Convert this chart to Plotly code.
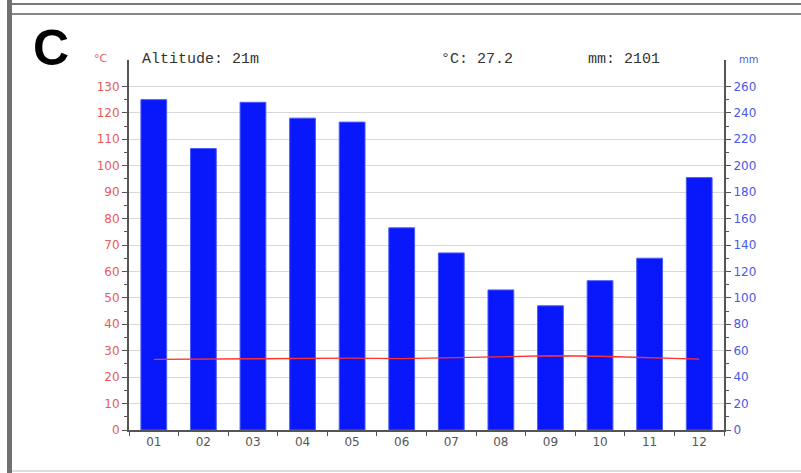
import plotly.graph_objects as go

months = ["01", "02", "03", "04", "05", "06", "07", "08", "09", "10", "11", "12"]
precip_mm = [250, 213, 248, 236, 233, 153, 134, 106, 94, 113, 130, 191]
temp_c = [26.7, 26.8, 27.0, 27.2, 27.2, 27.0, 27.4, 27.9, 28.1, 27.9, 27.4, 26.8]
temp_ticks = [0, 10, 20, 30, 40, 50, 60, 70, 80, 90, 100, 110, 120, 130]
temp_minor = [5, 15, 25, 35, 45, 55, 65, 75, 85, 95, 105, 115, 125]
mm_ticks = [0, 20, 40, 60, 80, 100, 120, 140, 160, 180, 200, 220, 240, 260]
mm_minor = [10, 30, 50, 70, 90, 110, 130, 150, 170, 190, 210, 230, 250]
altitude_txt = "Altitude: 21m"
mean_temp_txt = "°C: 27.2"
total_mm_txt = "mm: 2101"

L, R, T, B = 129, 724, 60, 430
W, H = 801, 473


def px(x):
    return (x - L) / (R - L)


def py(y):
    return (B - y) / (B - T)


fig = go.Figure()
fig.add_trace(go.Bar(x=months, y=precip_mm, yaxis="y", marker=dict(color="#0818fa", line=dict(color="#4a5cff", width=1)),
                     showlegend=False))
fig.add_trace(go.Scatter(x=months, y=temp_c, yaxis="y2", mode="lines", line=dict(color="#ff3030", width=1.3),
                         showlegend=False))

axis_col = "#555555"
fig.update_layout(
    width=W, height=H,
    margin=dict(l=L, r=W - R, t=T, b=H - B),
    paper_bgcolor="white", plot_bgcolor="white",
    bargap=0.48,
    xaxis=dict(type="category", showline=True, linecolor=axis_col, linewidth=2, ticks="outside",
               tickson="boundaries", ticklen=4, tickcolor=axis_col, showgrid=False,
               tickfont=dict(family="DejaVu Sans", size=12, color="#555555")),
    yaxis=dict(side="right", range=[0, 140 * 2], tickvals=mm_ticks, showline=True, linecolor=axis_col,
               linewidth=2, ticks="outside", ticklen=5, tickcolor=axis_col, showgrid=True, gridcolor="#d8d8d8",
               gridwidth=1, zeroline=False,
               minor=dict(tickvals=mm_minor, ticks="outside", ticklen=3, tickcolor=axis_col, showgrid=False),
               tickfont=dict(family="DejaVu Sans", size=12, color="#4a5ae8")),
    yaxis2=dict(side="left", overlaying="y", range=[0, 140], tickvals=temp_ticks, showline=True,
                linecolor=axis_col, linewidth=2, ticks="outside", ticklen=5, tickcolor=axis_col, showgrid=False,
                zeroline=False,
                minor=dict(tickvals=temp_minor, ticks="outside", ticklen=3, tickcolor=axis_col, showgrid=False),
                tickfont=dict(family="DejaVu Sans", size=12, color="#e85a5a")),
)

mono = dict(family="Liberation Mono", size=15, color="#333333")
ann = [
    dict(text="<b>C</b>", x=px(51), y=py(48), font=dict(family="Liberation Sans", size=50, color="black"),
         xanchor="center", yanchor="middle"),
    dict(text="°C", x=px(101), y=py(58), font=dict(family="DejaVu Sans", size=11, color="#e85a5a"),
         xanchor="center", yanchor="middle"),
    dict(text="mm", x=px(748), y=py(59), font=dict(family="DejaVu Sans", size=10, color="#4a5ae8"),
         xanchor="center", yanchor="middle"),
    dict(text=altitude_txt, x=px(140), y=py(59), font=mono, xanchor="left", yanchor="middle"),
    dict(text=mean_temp_txt, x=px(439), y=py(59), font=mono, xanchor="left", yanchor="middle"),
    dict(text=total_mm_txt, x=px(586), y=py(59), font=mono, xanchor="left", yanchor="middle"),
]
for a in ann:
    a.update(xref="paper", yref="paper", showarrow=False)
fig.update_layout(annotations=ann)

shapes = [
    dict(type="line", x0=px(11), x1=px(W), y0=py(4), y1=py(4), line=dict(color="#777777", width=2)),
    dict(type="line", x0=px(11), x1=px(W), y0=py(14), y1=py(14), line=dict(color="#888888", width=2)),
    dict(type="line", x0=px(9.5), x1=px(9.5), y0=py(0), y1=py(H), line=dict(color="#707070", width=5)),
    dict(type="line", x0=px(12), x1=px(W), y0=py(471), y1=py(471), line=dict(color="#dddddd", width=2)),
]
for s in shapes:
    s.update(xref="paper", yref="paper", layer="above")
fig.update_layout(shapes=shapes)

fig.write_html("out.html", config={"displayModeBar": False},
               post_script="document.body.style.margin='0';document.body.style.overflow='hidden';")
